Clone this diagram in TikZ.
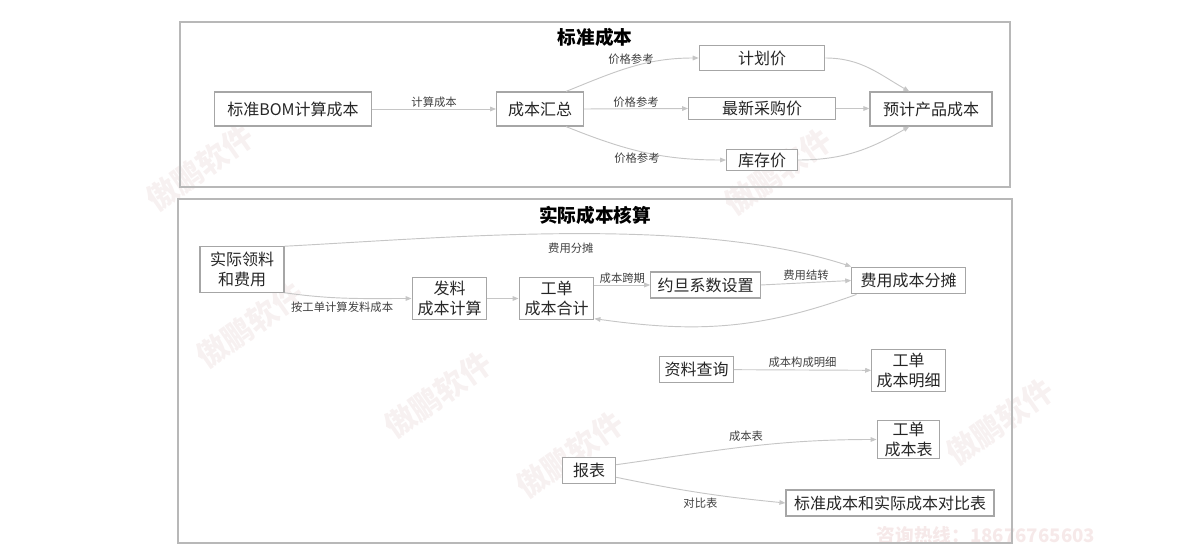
\documentclass[tikz,border=0pt]{standalone}
\usepackage{fontspec}
\setmainfont{Noto Sans CJK SC}
\usepackage{tikz}
\usepackage{xcolor}
\usetikzlibrary{arrows.meta,positioning}
\definecolor{boxGray}{HTML}{A6A6A6}
\definecolor{lineGray}{HTML}{C6C6C6}
\definecolor{frameGray}{HTML}{B8B8B8}
\definecolor{lblGray}{HTML}{404040}
\definecolor{wmPink}{HTML}{F7F1F1}
\definecolor{telPink}{HTML}{F6E9E9}

\begin{document}
\begin{tikzpicture}[
        x=0.75pt,y=-0.75pt,
        every node/.style={font=\fontsize{12pt}{15pt}\selectfont},
        box/.style={rectangle,draw=boxGray,fill=white,line width=0.9pt,
                    inner sep=1pt,align=center,text=black!85},
        arr/.style={-{Triangle[length=4.5pt,width=3.5pt]},color=lineGray,line width=0.7pt},
        lbl/.style={font=\fontsize{8.5pt}{10pt}\selectfont,text=lblGray,inner sep=1.5pt},
        frame/.style={draw=frameGray,line width=1.2pt},
        ttl/.style={font=\fontsize{14pt}{16pt}\selectfont\bfseries,text=black},
        wm/.style={font=\fontsize{23pt}{25pt}\selectfont\bfseries,text=wmPink,rotate=35}
      ]
        \useasboundingbox (0,0) rectangle (1200,560);
        % watermarks
        \node[wm] (wm1) at (200,168) {傲鹏软件};
        \node[wm] (wm2) at (778,172) {傲鹏软件};
        \node[wm] (wm3) at (250,325) {傲鹏软件};
        \node[wm] (wm4) at (438,395) {傲鹏软件};
        \node[wm] (wm5) at (570,455) {傲鹏软件};
        \node[wm] (wm6) at (1000,422) {傲鹏软件};
        \node[font=\fontsize{14pt}{16pt}\selectfont\bfseries,text=telPink] (tel) at (986,535) {咨询热线：18676765603};

        % standard cost
        \draw[frame] (180,22) rectangle (1010,187);
        \node[ttl] (t1) at (595,37) {标准成本};
        \node[box,minimum width=117.75pt,minimum height=25.5pt] (bom) at (293,109) {标准BOM计算成本};
        \node[box,minimum width=65pt,minimum height=25.5pt] (sum) at (540,109) {成本汇总};
        \node[box,minimum width=94pt,minimum height=19pt] (plan) at (762,58) {计划价};
        \node[box,minimum width=110pt,minimum height=16pt] (buy) at (762,108.5) {最新采购价};
        \node[box,minimum width=53pt,minimum height=16pt] (stock) at (762,160) {库存价};
        \node[box,minimum width=91.5pt,minimum height=25.5pt] (est) at (931,109) {预计产品成本};
        \draw[arr] (bom) -- node[lbl,above=-1pt] {计算成本} (sum);
        \draw[arr] (sum.34) to[out=22,in=180] node[lbl,above,pos=0.5] {价格参考} (plan.west);
        \draw[arr] (sum.east) -- node[lbl,above=-1pt,pos=0.5] {价格参考} (buy.west);
        \draw[arr] (sum.-34) to[out=-22,in=180] node[lbl,below,pos=0.45] {价格参考} (stock.west);
        \draw[arr] (plan.east) to[out=0,in=150] (est.141);
        \draw[arr] (buy.east) -- (est.west |- buy.east);
        \draw[arr] (stock.east) to[out=0,in=-150] (est.-141);

        % actual cost
        \draw[frame] (178,199) rectangle (1012,543);
        \node[ttl] (t2) at (595,215) {实际成本核算};
        \node[box,minimum width=63pt,minimum height=34pt] (act) at (242,269.5) {实际领料\\和费用};
        \node[box,minimum width=56pt,minimum height=31pt] (issue) at (449.5,298.5) {发料\\成本计算};
        \node[box,minimum width=56pt,minimum height=31pt] (wo) at (556.5,298.5) {工单\\成本合计};
        \node[box,minimum width=82pt,minimum height=19.5pt] (yue) at (705.5,285) {约旦系数设置};
        \node[box,minimum width=85pt,minimum height=20pt] (alloc) at (908.5,280.5) {费用成本分摊};
        \node[box,minimum width=55pt,minimum height=20pt] (data) at (696.5,369.5) {资料查询};
        \node[box,minimum width=55pt,minimum height=31pt] (detail) at (908.5,370.5) {工单\\成本明细};
        \node[box,minimum width=47pt,minimum height=29pt] (tab) at (908.5,439.5) {工单\\成本表};
        \node[box,minimum width=40pt,minimum height=19pt] (rep) at (589,470.5) {报表};
        \node[box,minimum width=156pt,minimum height=19.5pt] (cmp) at (890,503) {标准成本和实际成本对比表};
        \draw[arr] (act.north east) to[out=3,in=162,looseness=0.75] node[lbl,below=5pt,pos=0.5] {费用分摊} (alloc.north west);
        \draw[arr] (act.south east) to[out=-8,in=180] node[lbl,below=1pt,pos=0.45] {按工单计算发料成本} (issue.west);
        \draw[arr] (issue) -- (wo);
        \draw[arr] (wo.east |- yue.west) -- node[lbl,above=-1pt] {成本跨期} (yue.west);
        \draw[arr] (yue.east) -- node[lbl,above=0pt] {费用结转} (alloc.west);
        \draw[arr] (alloc.-165) to[out=-160,in=-8] (wo.-28);
        \draw[arr] (data) -- node[lbl,above=0pt] {成本构成明细} (detail);
        \draw[arr] (rep.12) to[out=8,in=180] node[lbl,above=2pt,pos=0.5] {成本表} (tab.west);
        \draw[arr] (rep.-14) to[bend right=3] node[lbl,below=2pt,pos=0.5] {对比表} (cmp.west);
      \end{tikzpicture}
\end{document}
